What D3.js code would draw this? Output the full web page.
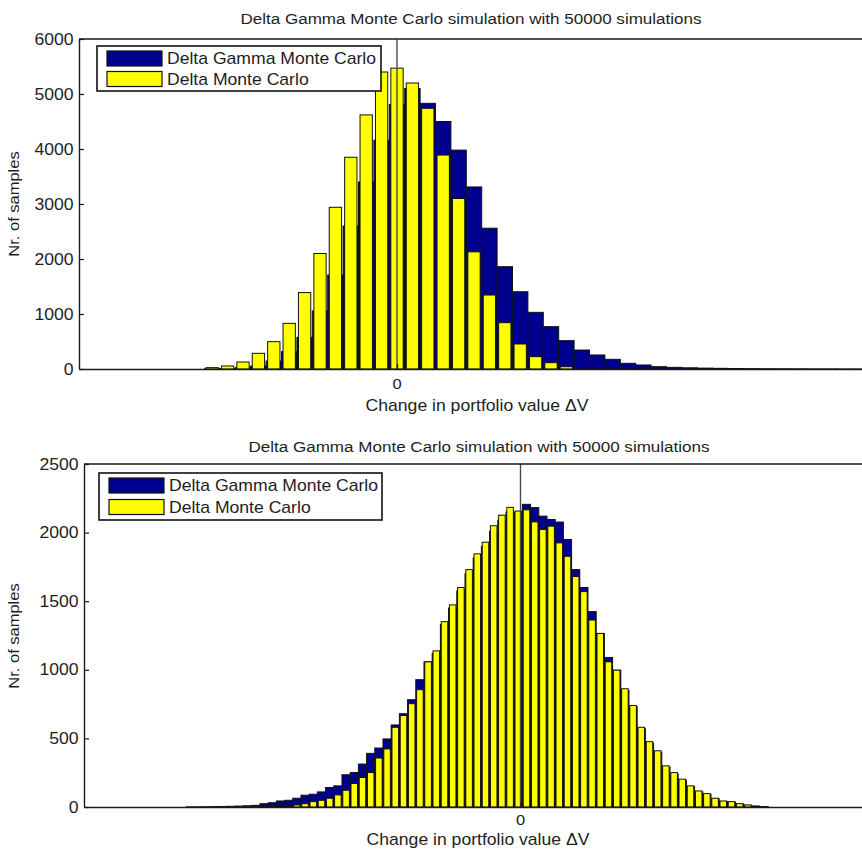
<!DOCTYPE html>
<html>
<head>
<meta charset="utf-8">
<script src="https://cdn.jsdelivr.net/npm/d3@7"></script>
<style>
  html, body { margin: 0; padding: 0; background: #ffffff; }
  svg { display: block; }
  text { font-family: 'Liberation Sans', Arial, Helvetica, sans-serif; fill: #1e1e1e; }
</style>
</head>
<body>
<svg id="fig" width="862" height="850"></svg>
<script>
// ---- shared labels ----
const titleText = "Delta Gamma Monte Carlo simulation with 50000 simulations";
const xLabelText = "Change in portfolio value \u0394V";
const yLabelText = "Nr. of samples";
const seriesNames = ["Delta Gamma Monte Carlo", "Delta Monte Carlo"];

// ---- upper histogram: bin centres (in bin-width units of ΔV) and counts ----
const topFirstCenter = -12;
const topBinWidth = 1;
const topDeltaGamma = [5, 10, 25, 55, 145, 315, 576, 1055, 1710, 2600, 3400, 4160, 4810, 5100, 4830,
  4500, 3980, 3310, 2560, 1860, 1405, 1030, 770, 515, 345, 255, 176, 103, 73, 42,
  30, 22, 16, 12, 9, 7, 5, 4, 3, 2, 2, 1, 1];
const topDelta = [25, 55, 127, 285, 497, 830, 1390, 2100, 2940, 3850, 4620, 5400, 5470, 5200, 4740,
  3890, 3100, 2130, 1345, 842, 455, 224, 115, 42, 0, 0, 0, 0, 0, 0,
  0, 0, 0, 0, 0, 0, 0, 0, 0, 0, 0, 0, 0];
const topYTicks = [0, 1000, 2000, 3000, 4000, 5000, 6000];
const topXTicks = [0];

// ---- lower histogram ----
const botFirstCenter = -40.27;
const botBinWidth = 1;
const botDeltaGamma = [1, 1, 2, 3, 4, 5, 7, 9, 12, 24, 31, 44, 49, 64, 86, 93, 110, 142, 154, 235,
  251, 313, 391, 430, 496, 598, 680, 782, 928, 1058,
  1120, 1330, 1450, 1575, 1700, 1815, 1900, 2010, 2090, 2150, 2140,
  2206, 2182, 2120, 2096, 2077, 1950, 1730, 1600, 1424, 1265, 1090, 997, 850, 730,
  570, 465, 400, 290, 240, 195, 148, 110, 92, 60, 40, 35, 21, 12, 5, 2];
const botDelta = [0, 0, 0, 1, 1, 1, 2, 2, 3, 3, 4, 5, 7, 15, 24, 39, 49, 64, 88, 122,
  171, 215, 251, 357, 423, 581, 667, 753, 855, 1058,
  1138, 1351, 1473, 1600, 1730, 1845, 1930, 2050, 2127, 2184, 2157,
  2166, 2078, 2023, 2047, 1925, 1827, 1680, 1570, 1363, 1265, 1058, 997, 862, 740,
  581, 476, 410, 300, 251, 203, 154, 117, 98, 64, 44, 39, 24, 15, 7, 3];
const botYTicks = [0, 500, 1000, 1500, 2000, 2500];
const botXTicks = [0];

// ---- styling ----
const COLOR_DG = "#00008f";
const COLOR_D = "#ffff00";
const EDGE = "#111111";
const TEXT_SX = 1.1;   // horizontal glyph stretch
const fmt = d3.format("d");

const panels = [
  {
    first: topFirstCenter, binW: topBinWidth, dg: topDeltaGamma, d: topDelta,
    yTicks: topYTicks, xTicks: topXTicks,
    box: { l: 79, r: 875, t: 39, b: 369 }, xDomain: [-20.65, 31.04],
    title: [471, 24], xlab: [477, 411], ylab: [19, 204], xtickBase: 389,
    legend: { x: 97, y: 46, w: 284, h: 45 }
  },
  {
    first: botFirstCenter, binW: botBinWidth, dg: botDeltaGamma, d: botDelta,
    yTicks: botYTicks, xTicks: botXTicks,
    box: { l: 84, r: 880, t: 464, b: 807 }, xDomain: [-53.23, 43.84],
    title: [479, 452], xlab: [478, 845], ylab: [19, 636], xtickBase: 825,
    legend: { x: 99, y: 473, w: 283, h: 47 }
  }
];

const svg = d3.select("#fig");

function addText(g, x, y, str, size, anchor, rotate) {
  return g.append("text")
    .attr("transform", `translate(${x},${y})` + (rotate ? ` rotate(${rotate})` : "") + ` scale(${TEXT_SX},1)`)
    .attr("text-anchor", anchor)
    .style("font-size", size + "px")
    .text(str);
}

panels.forEach(p => {
  const g = svg.append("g");
  const x = d3.scaleLinear().domain(p.xDomain).range([p.box.l, p.box.r]);
  const y = d3.scaleLinear().domain([0, d3.max(p.yTicks)]).range([p.box.b, p.box.t]);

  const rows = p.d.map((v, i) => ({ c: p.first + i * p.binW, d: v, dg: p.dg[i] }));

  // Delta Gamma bars: full bin width, behind
  g.append("g").selectAll("rect")
    .data(rows.filter(r => r.dg > 0))
    .join("rect")
    .attr("x", r => x(r.c - p.binW / 2))
    .attr("width", r => x(r.c + p.binW / 2) - x(r.c - p.binW / 2))
    .attr("y", r => y(r.dg))
    .attr("height", r => y(0) - y(r.dg))
    .attr("fill", COLOR_DG)
    .attr("stroke", EDGE)
    .attr("stroke-width", 1);

  // Delta bars: 0.8 bin width, in front
  g.append("g").selectAll("rect")
    .data(rows.filter(r => r.d > 0))
    .join("rect")
    .attr("x", r => x(r.c - 0.4 * p.binW))
    .attr("width", r => x(r.c + 0.4 * p.binW) - x(r.c - 0.4 * p.binW))
    .attr("y", r => y(r.d))
    .attr("height", r => y(0) - y(r.d))
    .attr("fill", COLOR_D)
    .attr("stroke", EDGE)
    .attr("stroke-width", 1);

  // reference line at ΔV = 0
  g.append("line")
    .attr("x1", x(0)).attr("x2", x(0))
    .attr("y1", p.box.t).attr("y2", p.box.b)
    .attr("stroke", "#4a4a4a")
    .attr("stroke-width", 1.4);

  // y axis with inward ticks
  const ya = g.append("g")
    .attr("transform", `translate(${p.box.l},0)`)
    .call(d3.axisLeft(y).tickValues(p.yTicks).tickFormat(fmt)
      .tickSizeInner(-5).tickSizeOuter(0).tickPadding(5));
  ya.select(".domain").attr("stroke", "#1a1a1a").attr("stroke-width", 1.4);
  ya.selectAll(".tick line").attr("stroke", "#1a1a1a").attr("stroke-width", 1.2);
  ya.selectAll(".tick text")
    .attr("fill", "#1e1e1e")
    .style("font-size", "16px")
    .style("font-family", "'Liberation Sans', Arial, Helvetica, sans-serif")
    .attr("transform", `scale(${TEXT_SX},1)`);

  // x axis with the single zero tick
  const xa = g.append("g")
    .attr("transform", `translate(0,${p.box.b})`)
    .call(d3.axisBottom(x).tickValues(p.xTicks).tickSizeInner(-5).tickSizeOuter(0).tickFormat(fmt));
  xa.select(".domain").attr("stroke", "#1a1a1a").attr("stroke-width", 1.4);
  xa.selectAll(".tick line").attr("stroke", "#1a1a1a").attr("stroke-width", 1.2);
  xa.selectAll(".tick text").remove();
  p.xTicks.forEach(v => addText(g, x(v), p.xtickBase, fmt(v), 15, "middle"));

  // top border of the axes box
  g.append("line")
    .attr("x1", p.box.l).attr("x2", p.box.r)
    .attr("y1", p.box.t).attr("y2", p.box.t)
    .attr("stroke", "#1a1a1a").attr("stroke-width", 1.4);

  // titles
  addText(g, p.title[0], p.title[1], titleText, 15.5, "middle");
  addText(g, p.xlab[0], p.xlab[1], xLabelText, 16, "middle");
  addText(g, p.ylab[0], p.ylab[1], yLabelText, 15, "middle", -90);

  // legend
  const L = p.legend;
  const lg = g.append("g").attr("transform", `translate(${L.x},${L.y})`);
  lg.append("rect").attr("width", L.w).attr("height", L.h)
    .attr("fill", "#ffffff").attr("stroke", "#111111").attr("stroke-width", 1.6);
  [[COLOR_DG, seriesNames[0]], [COLOR_D, seriesNames[1]]].forEach((s, i) => {
    const yy = 5 + i * (L.h / 2 - 2);
    lg.append("rect").attr("x", 10).attr("y", yy).attr("width", 55).attr("height", 15)
      .attr("fill", s[0]).attr("stroke", "#111111").attr("stroke-width", 1.2);
    addText(lg, 70, yy + 13, s[1], 16, "start");
  });
});
</script>
</body>
</html>
